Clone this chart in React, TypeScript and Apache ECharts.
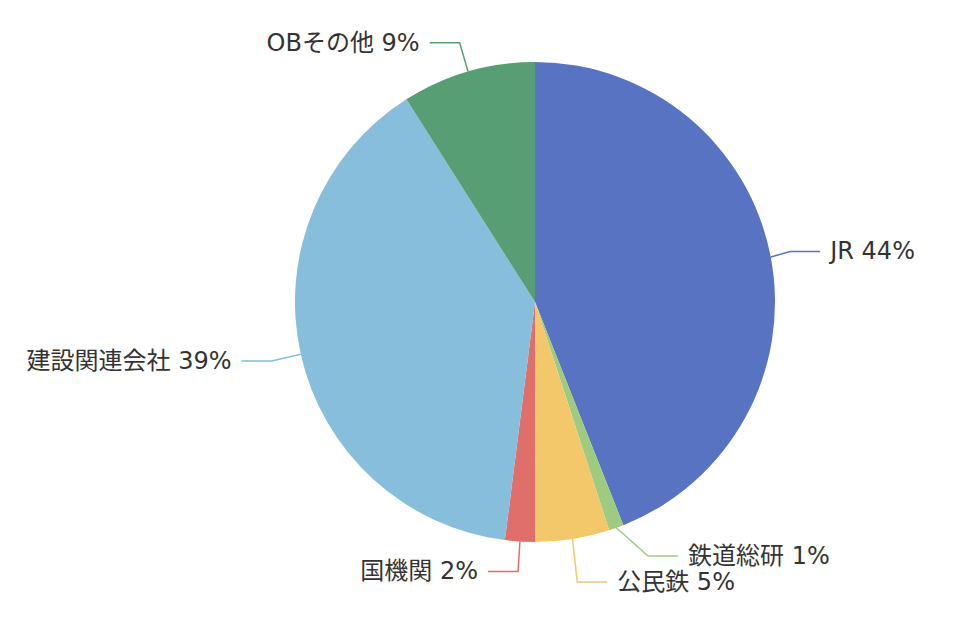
import * as echarts from "echarts";
import React, { useEffect, useRef } from "react";

const categories = ["JR", "鉄道総研", "公民鉄", "国機関", "建設関連会社", "OBその他"];
const values = [44, 1, 5, 2, 39, 9];
const colors = ["#5873c1", "#9fcb80", "#f3c86b", "#e06e6a", "#86bedb", "#589e74"];

const App: React.FC = () => {
  const chartRef = useRef<HTMLDivElement | null>(null);

  useEffect(() => {
    document.body.style.margin = "0";
    const chart = echarts.init(chartRef.current, null, { renderer: "svg" });
    chart.setOption({
      animation: false,
      color: colors,
      series: [
        {
          type: "pie",
          center: [535, 302],
          radius: 240,
          startAngle: 90,
          clockwise: true,
          label: {
            formatter: "{b} {d}%",
            fontSize: 24,
            color: "#333",
            fontFamily: "'DejaVu Sans', 'Noto Sans CJK JP', sans-serif",
            distanceToLabelLine: 10,
          },
          labelLine: {
            length: 30,
            length2: 30,
            lineStyle: { width: 1.5 },
          },
          data: categories.map((name, i) => ({
            name,
            value: values[i],
          })),
        },
      ],
    });

    return () => {
      chart.dispose();
    };
  }, []);

  return <div ref={chartRef} style={{ width: "980px", height: "638px" }}></div>;
};

export default App;
